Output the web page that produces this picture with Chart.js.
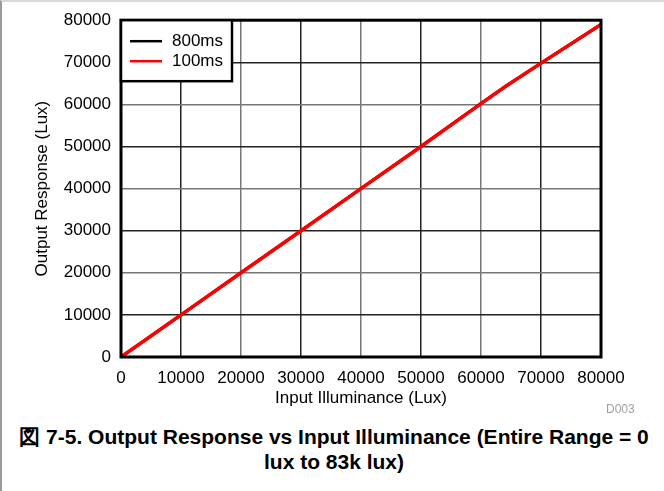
<!DOCTYPE html>
<html>
  <head>
    <meta charset="UTF-8" />
    <title>Output Response vs Input Illuminance</title>
    <script src="https://cdn.jsdelivr.net/npm/chart.js"></script>
    <style>
      body {
        margin: 0;
        font-family: "Liberation Sans", Arial, sans-serif;
        background: #fff;
      }
      .page {
        position: relative;
        width: 662px;
        height: 489px;
        border-top: 2px solid #d8d8d8;
        border-left: 2px solid #9a9a9a;
      }
      #chart {
        position: absolute;
        left: -2px;
        top: -2px;
      }
      .code {
        position: absolute;
        left: 604px;
        top: 400px;
        font-size: 12px;
        color: #a0a0a0;
      }
      .caption {
        position: absolute;
        left: 0;
        top: 422px;
        width: 664px;
        text-align: center;
        font-weight: bold;
        font-size: 21px;
        line-height: 25px;
      }
    </style>
  </head>
  <body>
    <div class="page">
      <canvas id="chart" width="664" height="420"></canvas>
      <div class="code">D003</div>
      <div class="caption">
        図 7-5. Output Response vs Input Illuminance (Entire Range = 0<br />lux to 83k lux)
      </div>
    </div>
    <script>
      // 入力照度 (Lux)
      const inputLux = [0, 10000, 20000, 30000, 40000, 50000, 60000, 64000, 70000, 80000];
      // 出力 (Lux)
      const out800 = [0, 10000, 20000, 30000, 40000, 50000, 60200, 64200, 69800, 79000];
      const out100 = [0, 10000, 20000, 30000, 40000, 50000, 60200, 64200, 69800, 79000];
      const seriesNames = ["800ms", "100ms"];
      const seriesColors = ["#000000", "#ff0000"];

      const toPoints = (xs, ys) => xs.map((x, i) => ({ x: x, y: ys[i] }));
      const gridColor = (ctx) => (ctx.index % 2 ? "#222" : "#777");
      const plain = (v) => String(v);
      const font17 = { size: 17, family: "'Liberation Sans', Arial, sans-serif" };

      // 凡例ボックスと外枠
      const framePlugin = {
        id: "frame",
        afterDraw(chart) {
          const c = chart.ctx;
          const a = chart.chartArea;
          c.save();
          c.strokeStyle = "#000";
          c.lineWidth = 3;
          c.strokeRect(a.left, a.top, a.right - a.left, a.bottom - a.top);
          // legend
          const bx = a.left, by = a.top, bw = 111, bh = 61;
          c.fillStyle = "#fff";
          c.fillRect(bx, by, bw, bh);
          c.lineWidth = 2.5;
          c.strokeRect(bx, by, bw, bh);
          c.font = "17px 'Liberation Sans', Arial, sans-serif";
          c.textBaseline = "middle";
          seriesNames.forEach((name, i) => {
            const y = by + 21 + i * 20;
            c.strokeStyle = seriesColors[i];
            c.lineWidth = 2.5;
            c.beginPath();
            c.moveTo(bx + 9, y);
            c.lineTo(bx + 41, y);
            c.stroke();
            c.fillStyle = "#000";
            c.fillText(name, bx + 51, y);
          });
          c.restore();
        },
      };

      new Chart(document.getElementById("chart"), {
        type: "line",
        data: {
          datasets: [
            {
              label: seriesNames[0],
              data: toPoints(inputLux, out800),
              borderColor: seriesColors[0],
              borderWidth: 3,
              pointRadius: 0,
              tension: 0,
              order: 2,
            },
            {
              label: seriesNames[1],
              data: toPoints(inputLux, out100),
              borderColor: seriesColors[1],
              borderWidth: 3.5,
              pointRadius: 0,
              tension: 0,
              order: 1,
            },
          ],
        },
        options: {
          responsive: false,
          animation: false,
          layout: { padding: { top: 17, right: 63, left: 0, bottom: 11 } },
          plugins: { legend: { display: false }, tooltip: { enabled: false } },
          scales: {
            x: {
              type: "linear",
              min: 0,
              max: 80000,
              afterFit: (s) => { s.height = 52; },
              ticks: { stepSize: 10000, color: "#000", padding: 11, maxRotation: 0, font: font17, callback: plain },
              grid: { color: gridColor, lineWidth: 1.5, drawTicks: false },
              border: { display: false },
              title: {
                display: true,
                text: "Input Illuminance (Lux)",
                color: "#000",
                padding: { top: 0, bottom: 0 },
                font: font17,
              },
            },
            y: {
              type: "linear",
              min: 0,
              max: 80000,
              afterFit: (s) => { s.width = 121; },
              ticks: { stepSize: 10000, color: "#000", padding: 10, font: font17, callback: plain },
              grid: { color: gridColor, lineWidth: 1.5, drawTicks: false },
              border: { display: false },
              title: {
                display: true,
                text: "Output Response (Lux)",
                color: "#000",
                padding: { top: 32, bottom: 4 },
                font: font17,
              },
            },
          },
        },
        plugins: [framePlugin],
      });
    </script>
  </body>
</html>
